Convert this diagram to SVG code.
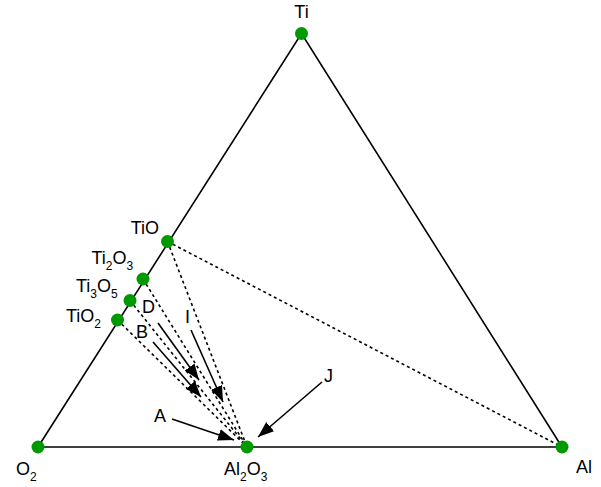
<svg xmlns="http://www.w3.org/2000/svg" width="601" height="487" viewBox="0 0 601 487">
<style>
text{font-family:"Liberation Sans",Arial,sans-serif;font-size:18px;fill:#000}
.sub{font-size:12px}
.edge{stroke:#000;stroke-width:1.6;fill:none}
.tie{stroke:#000;stroke-width:1.6;fill:none;stroke-dasharray:3,3}
.arr{stroke:#000;stroke-width:1.6;fill:none;marker-end:url(#ah)}
.dot{fill:#009900}
</style>
<defs>
<marker id="ah" markerUnits="userSpaceOnUse" markerWidth="18" markerHeight="12" refX="16" refY="6" orient="auto">
<path d="M0,0 L16,6 L0,12 Z" fill="#000"/>
</marker>
</defs>
<g id="connectors">
<path class="edge" d="M38,447 L301.5,33.5 L562,447 Z"/>
<line class="tie" x1="167.5" y1="241.5" x2="562" y2="447"/>
<line class="tie" x1="167.5" y1="241.5" x2="247" y2="447"/>
<line class="tie" x1="143" y1="279" x2="247" y2="447"/>
<line class="tie" x1="130" y1="300.5" x2="247" y2="447"/>
<line class="tie" x1="117.5" y1="320" x2="247" y2="447"/>
<line class="arr" x1="158" y1="323" x2="199" y2="380"/>
<line class="arr" x1="153" y1="342" x2="201" y2="397"/>
<line class="arr" x1="191" y1="330" x2="223" y2="402"/>
<line class="arr" x1="172" y1="419" x2="234" y2="440"/>
<line class="arr" x1="322" y1="382" x2="258" y2="437"/>
</g>
<g id="Ti"><circle class="dot" cx="301.5" cy="33.5" r="6.5"/><text x="301.5" y="18" text-anchor="middle">Ti</text></g>
<g id="O2"><circle class="dot" cx="38" cy="447" r="6.5"/><text x="16" y="475">O<tspan class="sub" dy="6">2</tspan></text></g>
<g id="Al"><circle class="dot" cx="562" cy="447" r="6.5"/><text x="576" y="473">Al</text></g>
<g id="Al2O3"><circle class="dot" cx="247" cy="447" r="6.5"/><text x="224" y="475">Al<tspan class="sub" dy="6">2</tspan><tspan dy="-6">O</tspan><tspan class="sub" dy="6">3</tspan></text></g>
<g id="TiO"><circle class="dot" cx="167.5" cy="241.5" r="6.5"/><text x="159" y="234" text-anchor="end">TiO</text></g>
<g id="Ti2O3"><circle class="dot" cx="143" cy="279" r="6.5"/><text x="91.5" y="263.5">Ti<tspan class="sub" dy="6">2</tspan><tspan dy="-6">O</tspan><tspan class="sub" dy="6">3</tspan></text></g>
<g id="Ti3O5"><circle class="dot" cx="130" cy="300.5" r="6.5"/><text x="76" y="291.5">Ti<tspan class="sub" dy="6">3</tspan><tspan dy="-6">O</tspan><tspan class="sub" dy="6">5</tspan></text></g>
<g id="TiO2"><circle class="dot" cx="117.5" cy="320" r="6.5"/><text x="66" y="321.5">TiO<tspan class="sub" dy="6">2</tspan></text></g>
<g id="labels">
<text x="142" y="313">D</text>
<text x="136" y="338">B</text>
<text x="185" y="323">I</text>
<text x="154" y="422">A</text>
<text x="324" y="382">J</text>
</g>
</svg>
